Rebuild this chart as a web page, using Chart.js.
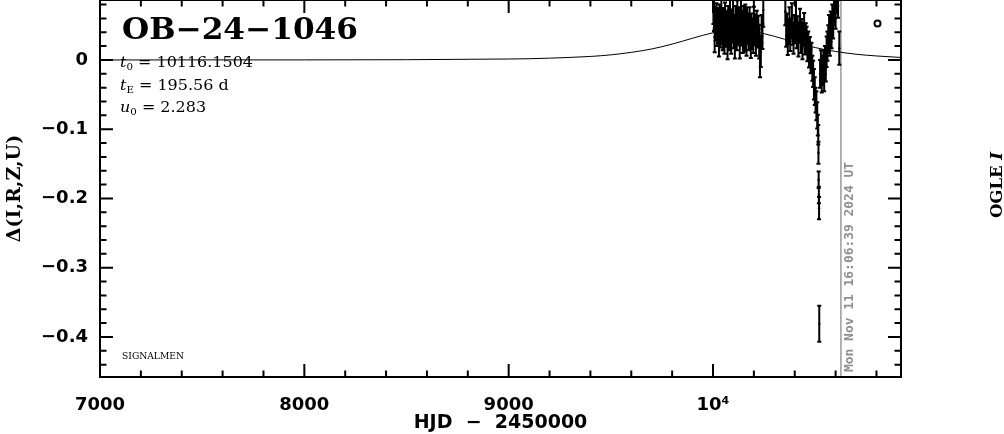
<!DOCTYPE html>
<html>
<head>
<meta charset="utf-8">
<script src="https://cdn.jsdelivr.net/npm/chart.js@4.4.1/dist/chart.umd.min.js"></script>
<style>
  html, body { margin: 0; padding: 0; background: #fff; }
  canvas { display: block; }
</style>
</head>
<body>
<canvas id="lc" width="1004" height="434"></canvas>
<script>
'use strict';

// axis ticks
let xTicks = [7000, 8000, 9000, 10000];
let xTickLabels = ['7000', '8000', '9000', '10\u2074'];
let yTicks = [0, -0.1, -0.2, -0.3, -0.4];
let yTickLabels = ['0', '\u22120.1', '\u22120.2', '\u22120.3', '\u22120.4'];

// PSPL model curve
let modelT = [7000, 7500, 8000, 8500, 9000, 9100, 9200, 9300, 9400, 9500, 9600, 9700, 9800, 9900, 10000, 10050, 10116, 10150, 10200, 10300, 10400, 10500, 10600, 10700, 10800, 10920];
let modelMag = [0.0000, 0.0001, 0.0001, 0.0004, 0.0014, 0.0018, 0.0026, 0.0037, 0.0051, 0.0074, 0.0110, 0.0159, 0.0229, 0.0314, 0.0393, 0.0420, 0.0435, 0.0430, 0.0411, 0.0342, 0.0256, 0.0179, 0.0123, 0.0083, 0.0058, 0.0036];

// OGLE I photometry, first season
let season1T = [
  10002, 10005, 10008, 10011, 10014, 10017, 10020, 10023, 10026, 10029,
  10032, 10035, 10038, 10041, 10044, 10047, 10050, 10053, 10056, 10059,
  10062, 10065, 10068, 10071, 10074, 10077, 10080, 10083, 10086, 10089,
  10092, 10095, 10098, 10101, 10104, 10107, 10110, 10113, 10116, 10119,
  10122, 10125, 10128, 10131, 10134, 10137, 10140, 10143, 10146, 10149,
  10152, 10155, 10158, 10161, 10164, 10167, 10170, 10173, 10176, 10179,
  10182, 10185, 10188, 10191, 10194, 10197, 10200, 10203, 10206, 10210,
  10214, 10218, 10222, 10226, 10230, 10234, 10238, 10242, 10246];
let season1Mag = [
  0.072, 0.066, 0.028, 0.055, 0.047, 0.061, 0.038, 0.052, 0.044, 0.024,
  0.058, 0.035, 0.049, 0.063, 0.041, 0.030, 0.054, 0.046, 0.026, 0.060,
  0.037, 0.050, 0.043, 0.021, 0.056, 0.048, 0.033, 0.065, 0.040, 0.027,
  0.052, 0.045, 0.070, 0.036, 0.049, 0.024, 0.058, 0.042, 0.031, 0.062,
  0.047, 0.038, 0.055, 0.020, 0.044, 0.068, 0.039, 0.051, 0.029, 0.057,
  0.043, 0.034, 0.060, 0.048, 0.025, 0.053, 0.040, 0.046, 0.032, 0.056,
  0.041, 0.022, 0.050, 0.037, 0.044, 0.030, 0.054, 0.039, 0.047, 0.028,
  0.051, 0.035, 0.043, 0.026, 0.005, 0.012, 0.045, 0.034, 0.072];
let season1Err = [
  0.020, 0.024, 0.017, 0.022, 0.016, 0.021, 0.018, 0.023, 0.015, 0.019,
  0.022, 0.017, 0.020, 0.024, 0.018, 0.016, 0.021, 0.019, 0.017, 0.023,
  0.018, 0.021, 0.016, 0.020, 0.022, 0.017, 0.019, 0.024, 0.015, 0.018,
  0.021, 0.017, 0.023, 0.019, 0.016, 0.022, 0.020, 0.018, 0.017, 0.024,
  0.019, 0.016, 0.021, 0.018, 0.023, 0.022, 0.017, 0.020, 0.019, 0.021,
  0.018, 0.022, 0.020, 0.016, 0.019, 0.023, 0.017, 0.021, 0.018, 0.020,
  0.022, 0.019, 0.017, 0.021, 0.016, 0.020, 0.023, 0.018, 0.019, 0.022,
  0.020, 0.017, 0.021, 0.024, 0.030, 0.022, 0.020, 0.018, 0.024];

// second season, including the dip
let season2T = [
  10354, 10358, 10362, 10366, 10370, 10374, 10378, 10382, 10386, 10390,
  10394, 10398, 10402, 10406, 10410, 10414, 10418, 10422, 10426, 10430,
  10434, 10438, 10442, 10446, 10450, 10454,
  10458, 10462, 10466, 10470, 10474, 10478, 10482, 10486, 10490, 10494,
  10498, 10502, 10506, 10510,
  10513, 10515, 10516, 10517, 10518, 10519, 10520,
  10524, 10528, 10532, 10536, 10540, 10544, 10548, 10552, 10556, 10560,
  10564, 10568, 10572, 10576, 10580, 10584, 10588, 10592, 10596, 10600,
  10604, 10608, 10612, 10618];
let season2Mag = [
  0.070, 0.035, 0.048, 0.022, 0.041, 0.055, 0.030, 0.046, 0.062, 0.038,
  0.027, 0.050, 0.043, 0.066, 0.034, 0.047, 0.025, 0.040, 0.056, 0.031,
  0.044, 0.020, 0.037, 0.052, 0.028, 0.035,
  0.030, 0.018, 0.025, 0.008, 0.012, -0.002, 0.005, -0.012, -0.020, -0.035,
  -0.045, -0.058, -0.066, -0.080,
  -0.094, -0.108, -0.134, -0.173, -0.195, -0.214, -0.381,
  -0.020, -0.008, -0.028, -0.015, -0.004, -0.022, 0.000, -0.012, 0.012, 0.020,
  0.030, 0.042, 0.025, 0.048, 0.038, 0.060, 0.055, 0.072, 0.080, 0.068,
  0.090, 0.098, 0.085, 0.017];
let season2Err = [
  0.020, 0.016, 0.019, 0.015, 0.018, 0.021, 0.017, 0.014, 0.020, 0.016,
  0.018, 0.015, 0.019, 0.022, 0.017, 0.016, 0.020, 0.014, 0.018, 0.021,
  0.015, 0.019, 0.017, 0.016, 0.020, 0.018,
  0.018, 0.020, 0.016, 0.019, 0.021, 0.017, 0.020, 0.018, 0.019, 0.022,
  0.020, 0.018, 0.021, 0.019,
  0.015, 0.014, 0.016, 0.012, 0.012, 0.016, 0.026,
  0.020, 0.022, 0.019, 0.021, 0.018, 0.023, 0.020, 0.019, 0.022, 0.021,
  0.020, 0.023, 0.019, 0.022, 0.021, 0.020, 0.024, 0.022, 0.021, 0.023,
  0.022, 0.020, 0.024, 0.024];

let obsT = season1T.concat(season2T);
let obsMag = season1Mag.concat(season2Mag);
let obsErr = season1Err.concat(season2Err);

let symbolPoint = [{ x: 10805, y: 0.0527 }];   // OGLE I legend symbol
let nowT = 10626;                               // Mon Nov 11 2024 marker
let nowLabel = 'Mon Nov 11 16:06:39 2024 UT';

let xMin = 7000, xMax = 10920;
let yMin = -0.4578, yMax = 0.0866;

function stretchText(c, txt, x, y, w) {
    let m = c.measureText(txt).width;
    c.save();
    c.translate(x, y);
    c.scale(w / m, 1);
    c.fillText(txt, 0, 0);
    c.restore();
}

// draws [font, text, dy] parts in a row, squeezed/stretched by sx
function drawParts(c, parts, x, y, sx) {
    c.save();
    c.translate(x, y);
    c.scale(sx, 1);
    let cx = 0;
    for (let p of parts) {
        c.font = p[0];
        c.fillText(p[1], cx, p[2]);
        cx += c.measureText(p[1]).width;
    }
    c.restore();
}

function partsWidth(c, parts) {
    let w = 0;
    for (let p of parts) {
        c.font = p[0];
        w += c.measureText(p[1]).width;
    }
    return w;
}

const nowLine = {
    id: 'nowLine',
    beforeDatasetsDraw(chart) {
        const { ctx: c, chartArea: a, scales: { x } } = chart;
        let px = x.getPixelForValue(nowT);
        c.save();
        c.strokeStyle = '#9a9a9a';
        c.lineWidth = 1.5;
        c.beginPath();
        c.moveTo(px, a.top);
        c.lineTo(px, a.bottom);
        c.stroke();
        c.translate(px + 12, 372);
        c.rotate(-Math.PI / 2);
        c.fillStyle = '#8f8f8f';
        c.font = 'bold 13px "DejaVu Sans Mono"';
        c.textAlign = 'left';
        c.textBaseline = 'alphabetic';
        stretchText(c, nowLabel, 0, 0, 210);
        c.restore();
    }
};

const errorBars = {
    id: 'errorBars',
    afterDatasetsDraw(chart) {
        const { ctx: c, chartArea: a, scales: { x, y } } = chart;
        c.save();
        c.beginPath();
        c.rect(a.left, a.top, a.right - a.left, a.bottom - a.top);
        c.clip();
        c.strokeStyle = '#000';
        c.lineWidth = 2;
        c.beginPath();
        for (let i = 0; i < obsT.length; i++) {
            let px = x.getPixelForValue(obsT[i]);
            let y1 = y.getPixelForValue(obsMag[i] + obsErr[i]);
            let y2 = y.getPixelForValue(obsMag[i] - obsErr[i]);
            c.moveTo(px, y1); c.lineTo(px, y2);
            c.moveTo(px - 2, y1); c.lineTo(px + 2, y1);
            c.moveTo(px - 2, y2); c.lineTo(px + 2, y2);
        }
        c.stroke();
        c.restore();
    }
};

const frame = {
    id: 'frame',
    afterDraw(chart) {
        const { ctx: c, chartArea: a, scales: { x, y } } = chart;
        c.save();
        c.strokeStyle = '#000';
        c.lineWidth = 2;
        c.strokeRect(a.left, a.top, a.right - a.left, a.bottom - a.top);
        c.beginPath();
        for (let v = xMin; v <= xMax; v += 200) {
            let px = x.getPixelForValue(v);
            let len = v % 1000 === 0 ? 13 : 6.5;
            c.moveTo(px, a.bottom); c.lineTo(px, a.bottom - len);
            c.moveTo(px, a.top); c.lineTo(px, a.top + len);
        }
        for (let k = -22; k <= 4; k++) {
            let py = y.getPixelForValue(k * 0.02);
            let len = k % 5 === 0 ? 13 : 6.5;
            c.moveTo(a.left, py); c.lineTo(a.left + len, py);
            c.moveTo(a.right, py); c.lineTo(a.right - len, py);
        }
        c.stroke();

        // labels inside the box
        c.fillStyle = '#000';
        c.textAlign = 'left';
        c.textBaseline = 'alphabetic';
        c.font = 'bold 29px "DejaVu Serif"';
        stretchText(c, 'OB\u221224\u22121046', 122, 39, 236);

        let serif = '14px "DejaVu Serif"';
        let ital = 'italic 14px "DejaVu Serif"';
        let sub = '9px "DejaVu Serif"';
        let line1 = [[ital, 't', 0], [sub, '0', 3], [serif, ' = 10116.1504', 0]];
        let line2 = [[ital, 't', 0], [sub, 'E', 3], [serif, ' = 195.56 d', 0]];
        let line3 = [[ital, 'u', 0], [sub, '0', 3], [serif, ' = 2.283', 0]];
        let sx = 133 / partsWidth(c, line1);
        drawParts(c, line1, 120, 67, sx);
        drawParts(c, line2, 120, 90, sx);
        drawParts(c, line3, 120, 112, sx);

        c.font = '9px "DejaVu Serif"';
        stretchText(c, 'SIGNALMEN', 122, 359, 62);

        // right side label
        c.translate(1002, 185);
        c.rotate(-Math.PI / 2);
        let ogle = [['bold 17px "DejaVu Serif"', 'OGLE ', 0], ['bold italic 17px "DejaVu Serif"', 'I', 0]];
        let ow = partsWidth(c, ogle);
        drawParts(c, ogle, -33, 0, 66 / ow);
        c.restore();
    }
};

let tickFont = { family: '"DejaVu Sans"', size: 18, weight: 'bold' };

let ctx = document.getElementById('lc').getContext('2d');
let chart = new Chart(ctx, {
    type: 'scatter',
    data: {
        datasets: [{
            label: 'model',
            type: 'line',
            data: modelT.map((t, i) => ({ x: t, y: modelMag[i] })),
            borderColor: '#000',
            borderWidth: 1,
            pointRadius: 0,
            fill: false,
            cubicInterpolationMode: 'monotone'
        }, {
            label: 'OGLE I',
            data: obsT.map((t, i) => ({ x: t, y: obsMag[i] })),
            pointRadius: 1.2,
            backgroundColor: '#000',
            borderWidth: 0
        }, {
            label: 'OGLE I symbol',
            data: symbolPoint,
            pointRadius: 3,
            borderWidth: 2,
            borderColor: '#000',
            backgroundColor: '#fff'
        }]
    },
    options: {
        responsive: false,
        animation: false,
        events: [],
        layout: { autoPadding: false, padding: { top: 0, right: 103, bottom: 0, left: 0 } },
        plugins: { legend: { display: false }, tooltip: { enabled: false } },
        scales: {
            x: {
                type: 'linear',
                min: xMin,
                max: xMax,
                afterBuildTicks: s => { s.ticks = xTicks.map(v => ({ value: v })); },
                afterFit: s => { s.height = 57; s.paddingLeft = 0; s.paddingRight = 0; },
                ticks: {
                    callback: (v, i) => xTickLabels[i],
                    font: tickFont,
                    color: '#000',
                    padding: 18,
                    maxRotation: 0,
                    autoSkip: false
                },
                grid: { display: false, drawTicks: false },
                border: { display: false },
                title: {
                    display: true,
                    text: 'HJD  \u2212  2450000',
                    color: '#000',
                    font: { family: '"DejaVu Sans"', size: 19, weight: 'bold' },
                    padding: { top: 0, bottom: 0 }
                }
            },
            y: {
                type: 'linear',
                min: yMin,
                max: yMax,
                afterBuildTicks: s => { s.ticks = yTicks.map(v => ({ value: v })); },
                afterFit: s => { s.width = 100; s.paddingTop = 0; s.paddingBottom = 0; },
                ticks: {
                    callback: (v, i) => yTickLabels[i],
                    font: tickFont,
                    color: '#000',
                    padding: 12,
                    autoSkip: false
                },
                grid: { display: false, drawTicks: false },
                border: { display: false },
                title: {
                    display: true,
                    text: '\u0394(I,R,Z,U)',
                    color: '#000',
                    font: { family: '"DejaVu Serif"', size: 19, weight: 'bold' },
                    padding: { top: 4, bottom: 0 }
                }
            }
        }
    },
    plugins: [nowLine, errorBars, frame]
});
</script>
</body>
</html>
